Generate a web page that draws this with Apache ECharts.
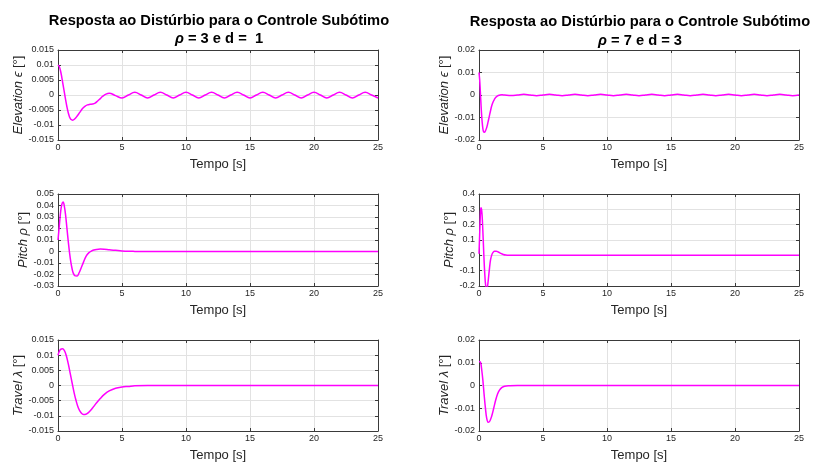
<!DOCTYPE html>
<html>
<head>
<meta charset="utf-8">
<script src="https://cdn.jsdelivr.net/npm/echarts@6/dist/echarts.min.js"></script>
<style>
  html, body { margin: 0; background: #fff; }
  #chart { width: 817px; height: 463px; }
</style>
</head>
<body>
<div id="chart"></div>
<script>
// ---- data ----
// rho = 3, d = 1 (left column)
const tElev3 = [0, 0.1, 0.2, 0.3, 0.4, 0.5, 0.6, 0.7, 0.8, 0.9, 1.0, 1.15, 1.3, 1.5, 1.7, 1.9, 2.1, 2.3, 2.5, 2.7, 2.9, 3.1, 3.3, 3.5, 3.75, 4.0,
  4.5, 5, 5.5, 6, 6.5, 7, 7.5, 8, 8.5, 9, 9.5, 10, 10.5, 11, 11.5, 12, 12.5, 13, 13.5, 14, 14.5, 15, 15.5, 16, 16.5, 17, 17.5, 18,
  18.5, 19, 19.5, 20, 20.5, 21, 21.5, 22, 22.5, 23, 23.5, 24, 24.5, 25]
const elev3 = [0.0100, 0.0095, 0.0080, 0.0058, 0.0033, 0.0008, -0.0017, -0.0040, -0.0059, -0.0073, -0.0081, -0.0084, -0.0080, -0.0070, -0.0058, -0.0046, -0.0038, -0.0033, -0.0031, -0.0030, -0.0027, -0.0020, -0.0012, -0.0004, 0.0003, 0.0006,
  -0.0002, -0.0010, 0.0000, 0.0009, 0.0000, -0.0010, 0.0000, 0.0009, 0.0000, -0.0010, 0.0000, 0.0009, 0.0000, -0.0010, 0.0000, 0.0009, 0.0000, -0.0010, 0.0000, 0.0009, 0.0000, -0.0010, 0.0000, 0.0009, 0.0000, -0.0010, 0.0000, 0.0009,
  0.0000, -0.0010, 0.0000, 0.0009, 0.0000, -0.0010, 0.0000, 0.0009, 0.0000, -0.0010, 0.0000, 0.0009, 0.0000, -0.0010]

const tPitch3 = [0, 0.1, 0.2, 0.3, 0.4, 0.5, 0.6, 0.7, 0.8, 0.9, 1.0, 1.1, 1.2, 1.35, 1.5, 1.65, 1.8, 2.0, 2.2, 2.4, 2.6, 2.8, 3.0, 3.3, 3.6, 4.0, 4.5, 5.0, 5.5, 6.0, 7.0, 8.0, 25]
const pitch3 = [0.010, 0.022, 0.034, 0.041, 0.043, 0.039, 0.031, 0.020, 0.009, -0.001, -0.009, -0.015, -0.019, -0.0212, -0.0213, -0.0185, -0.0145, -0.0090, -0.0040, -0.0012, 0.0004, 0.0013, 0.0018, 0.0021, 0.0020, 0.0015, 0.0010, 0.0005, 0.0002, 0.0001, 0.0000, 0.0000, 0.0000]

const tTravel3 = [0, 0.1, 0.2, 0.35, 0.5, 0.65, 0.8, 0.95, 1.1, 1.25, 1.4, 1.6, 1.8, 2.0, 2.1, 2.3, 2.5, 2.7, 3.0, 3.3, 3.6, 4.0, 4.5, 5.0, 5.5, 6.0, 7.0, 8.0, 25]
const travel3 = [0.0100, 0.0112, 0.0119, 0.0121, 0.0115, 0.0098, 0.0072, 0.0041, 0.0009, -0.0022, -0.0048, -0.0075, -0.0090, -0.0096, -0.0096, -0.0092, -0.0084, -0.0074, -0.0058, -0.0043, -0.0030, -0.0018, -0.0009, -0.0005, -0.0003, -0.0001, 0.0000, 0.0000, 0.0000]

// rho = 7, d = 3 (right column)
const tElev7 = [0, 0.05, 0.1, 0.15, 0.2, 0.25, 0.3, 0.35, 0.42, 0.5, 0.6, 0.7, 0.8, 0.9, 1.0, 1.1, 1.2, 1.3, 1.45, 1.6, 1.8, 2.0,
  2.5, 3, 3.5, 4, 4.5, 5, 5.5, 6, 6.5, 7, 7.5, 8, 8.5, 9, 9.5, 10, 10.5, 11, 11.5, 12, 12.5, 13, 13.5, 14, 14.5, 15, 15.5, 16,
  16.5, 17, 17.5, 18, 18.5, 19, 19.5, 20, 20.5, 21, 21.5, 22, 22.5, 23, 23.5, 24, 24.5, 25]
const elev7 = [0.0100, 0.0070, 0.0020, -0.0035, -0.0085, -0.0122, -0.0148, -0.0162, -0.0166, -0.0160, -0.0145, -0.0122, -0.0096, -0.0070, -0.0047, -0.0031, -0.0020, -0.0011, -0.0004, -0.0001, 0.0001, 0.0000,
  -0.0002, 0.0000, 0.0003, 0.0000, -0.0003, 0.0000, 0.0003, 0.0000, -0.0003, 0.0000, 0.0003, 0.0000, -0.0003, 0.0000, 0.0003, 0.0000, -0.0003, 0.0000, 0.0003, 0.0000, -0.0003, 0.0000, 0.0003, 0.0000, -0.0003, 0.0000, 0.0003, 0.0000,
  -0.0003, 0.0000, 0.0003, 0.0000, -0.0003, 0.0000, 0.0003, 0.0000, -0.0003, 0.0000, 0.0003, 0.0000, -0.0003, 0.0000, 0.0003, 0.0000, -0.0003, 0.0000]

const tPitch7 = [0, 0.05, 0.1, 0.15, 0.2, 0.25, 0.3, 0.35, 0.4, 0.45, 0.5, 0.55, 0.6, 0.65, 0.7, 0.8, 0.9, 1.0, 1.1, 1.2, 1.35, 1.5, 1.7, 1.9, 2.1, 2.4, 2.8, 3.2, 25]
const pitch7 = [0.01, 0.13, 0.25, 0.31, 0.30, 0.25, 0.16, 0.06, -0.04, -0.12, -0.18, -0.21, -0.22, -0.21, -0.18, -0.10, -0.03, 0.003, 0.019, 0.026, 0.027, 0.022, 0.013, 0.006, 0.002, 0.0005, 0, 0, 0]

const tTravel7 = [0, 0.1, 0.15, 0.2, 0.3, 0.4, 0.5, 0.6, 0.73, 0.85, 1.0, 1.15, 1.3, 1.45, 1.6, 1.8, 2.0, 2.4, 3.0, 25]
const travel7 = [0.0105, 0.0103, 0.0095, 0.0075, 0.0025, -0.0040, -0.0098, -0.0143, -0.0162, -0.0156, -0.0133, -0.0100, -0.0065, -0.0037, -0.0020, -0.0008, -0.0003, -0.0001, 0.0000, 0.0000]

const xTicks = { min: 0, max: 25, step: 5 }

// ---- layout ----
const FONT = '"Liberation Sans", Arial, Helvetica, sans-serif'
const INK = '#262626'
const BOX = '#3a3a3a'
const GRIDLINE = '#e2e2e2'

const panels = [
  { t: tElev3,   y: elev3,   left: 58,  top: 50,  h: 90, min: -0.015, max: 0.015, step: 0.005, label: 'Elevation', sym: 'ϵ', gap: 31 },
  { t: tElev7,   y: elev7,   left: 479, top: 50,  h: 90, min: -0.02,  max: 0.02,  step: 0.01,  label: 'Elevation', sym: 'ϵ', gap: 26 },
  { t: tPitch3,  y: pitch3,  left: 58,  top: 194, h: 92, min: -0.03,  max: 0.05,  step: 0.01,  label: 'Pitch',     sym: 'ρ', gap: 27 },
  { t: tPitch7,  y: pitch7,  left: 479, top: 194, h: 92, min: -0.2,   max: 0.4,   step: 0.1,   label: 'Pitch',     sym: 'ρ', gap: 22 },
  { t: tTravel3, y: travel3, left: 58,  top: 340, h: 91, min: -0.015, max: 0.015, step: 0.005, label: 'Travel',    sym: 'λ', gap: 31 },
  { t: tTravel7, y: travel7, left: 479, top: 340, h: 91, min: -0.02,  max: 0.02,  step: 0.01,  label: 'Travel',    sym: 'λ', gap: 26 }
]

function fmt(v) { return String(+v.toFixed(4)) }

const grid = [], xAxis = [], yAxis = [], series = []
panels.forEach((p, i) => {
  grid.push({ left: p.left, top: p.top, width: 320, height: p.h, containLabel: false })
  const tick = { show: true, inside: true, length: 3, lineStyle: { color: BOX, width: 1 } }
  const line = { show: true, onZero: false, lineStyle: { color: BOX, width: 1 } }
  // bottom + top (mirror) x axes
  xAxis.push({
    type: 'value', gridIndex: i, position: 'bottom',
    min: xTicks.min, max: xTicks.max, interval: xTicks.step,
    axisLine: line, axisTick: tick,
    axisLabel: { fontSize: 9, color: INK, margin: 3, fontFamily: FONT },
    splitLine: { show: true, lineStyle: { color: GRIDLINE, width: 1 } },
    name: 'Tempo [s]', nameLocation: 'middle', nameGap: 18,
    nameTextStyle: { fontSize: 13, color: INK, fontFamily: FONT }
  })
  xAxis.push({
    type: 'value', gridIndex: i, position: 'top',
    min: xTicks.min, max: xTicks.max, interval: xTicks.step,
    axisLine: line, axisTick: tick, axisLabel: { show: false }, splitLine: { show: false }
  })
  // left + right (mirror) y axes
  yAxis.push({
    type: 'value', gridIndex: i, position: 'left',
    min: p.min, max: p.max, interval: p.step,
    axisLine: line, axisTick: tick,
    axisLabel: { fontSize: 9, color: INK, margin: 4, fontFamily: FONT, formatter: fmt },
    splitLine: { show: true, lineStyle: { color: GRIDLINE, width: 1 } },
    name: '{it|' + p.label + ' ' + p.sym + '} [°]',
    nameLocation: 'middle', nameGap: p.gap, nameRotate: 90,
    nameTextStyle: {
      fontSize: 13, color: INK, fontFamily: FONT,
      rich: { it: { fontSize: 13, color: INK, fontStyle: 'italic', fontFamily: FONT } }
    }
  })
  yAxis.push({
    type: 'value', gridIndex: i, position: 'right',
    min: p.min, max: p.max, interval: p.step,
    axisLine: line, axisTick: tick, axisLabel: { show: false }, splitLine: { show: false }
  })
  series.push({
    type: 'line', xAxisIndex: 2 * i, yAxisIndex: 2 * i,
    data: p.t.map((t, k) => [t, p.y[k]]),
    showSymbol: false, smooth: 0.4, clip: true, z: 5,
    lineStyle: { color: '#ff00ff', width: 1.5 },
    silent: true, animation: false
  })
})

const titleStyle = {
  fontSize: 14.7, fontWeight: 'bold', color: '#000', fontFamily: FONT,
  rich: { it: { fontSize: 14.7, fontWeight: 'bold', fontStyle: 'italic', color: '#000', fontFamily: FONT } }
}
const title = [
  { text: 'Resposta ao Distúrbio para o Controle Subótimo', left: 219, top: 13, textAlign: 'center', textStyle: titleStyle, padding: 0 },
  { text: '{it|ρ} = 3 e d =  1', left: 219, top: 31, textAlign: 'center', textStyle: titleStyle, padding: 0 },
  { text: 'Resposta ao Distúrbio para o Controle Subótimo', left: 640, top: 14, textAlign: 'center', textStyle: titleStyle, padding: 0 },
  { text: '{it|ρ} = 7 e d = 3', left: 640, top: 33, textAlign: 'center', textStyle: titleStyle, padding: 0 }
]

const chart = echarts.init(document.getElementById('chart'))
chart.setOption({
  backgroundColor: '#fff',
  animation: false,
  title: title,
  grid: grid,
  xAxis: xAxis,
  yAxis: yAxis,
  series: series
})
</script>
</body>
</html>
